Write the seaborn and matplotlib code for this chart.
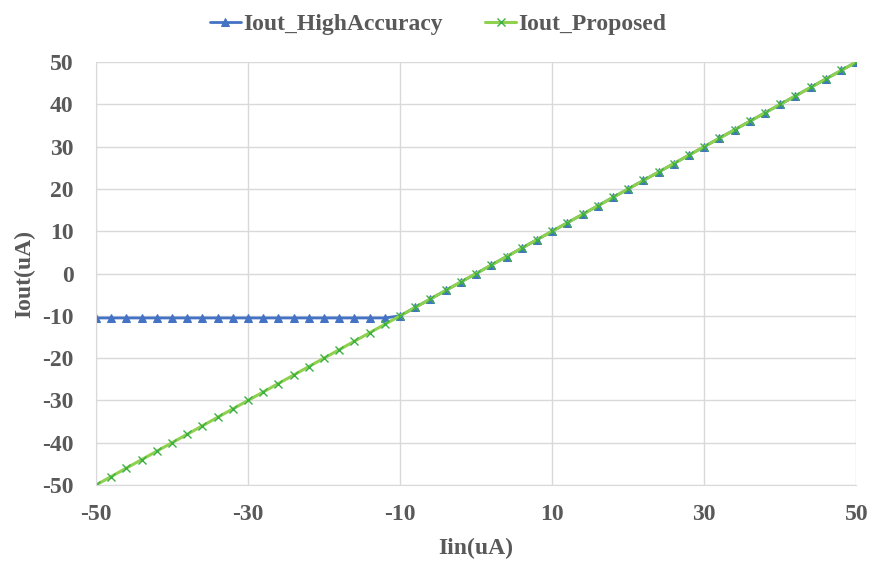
import numpy as np
import pandas as pd
import matplotlib
matplotlib.use("Agg")
import matplotlib.pyplot as plt
import seaborn as sns

sns.set_style("white")
plt.rcParams['font.family'] = ['Liberation Serif', 'DejaVu Serif']
plt.rcParams['font.weight'] = 'bold'
plt.rcParams['axes.unicode_minus'] = False

# input current sweep (uA), one point every 2 uA
iin = list(range(-50, 51, 2))
# high-accuracy circuit clamps at about -10.5 uA below -10 uA
iout_high = [-10.5 if x < -10 else float(x) for x in iin]
iout_prop = [float(x) for x in iin]

df = pd.DataFrame({
    "Iin": iin * 2,
    "Iout": iout_high + iout_prop,
    "Series": ["Iout_HighAccuracy"] * len(iin) + ["Iout_Proposed"] * len(iin),
})

text_col = "#595959"
blue = "#4472C4"
green = "#8FD14F"

fig = plt.figure(figsize=(8.72, 5.64), dpi=100)
ax = fig.add_axes([0.110, 0.140, 0.872, 0.750])

sns.lineplot(data=df[df.Series == "Iout_HighAccuracy"], x="Iin", y="Iout", ax=ax,
             color=blue, linewidth=2.0, marker="^", markersize=6,
             markeredgecolor=blue, label="Iout_HighAccuracy")
sns.lineplot(data=df[df.Series == "Iout_Proposed"], x="Iin", y="Iout", ax=ax,
             color=green, linewidth=2.2, marker="x", markersize=6,
             markeredgecolor="#3CB043", markeredgewidth=1.0, label="Iout_Proposed")

ax.set_xlim(-50, 50)
ax.set_ylim(-50, 50)
ax.set_xticks(range(-50, 51, 20))
ax.set_yticks(range(-50, 51, 10))
ax.grid(True, color="#D9D9D9", linewidth=1.0)
for s in ["top", "right"]:
    ax.spines[s].set_visible(False)
for s in ["left", "bottom"]:
    ax.spines[s].set_color("#D9D9D9")
ax.tick_params(axis="x", length=0, labelsize=17, colors=text_col, pad=14)
ax.tick_params(axis="y", length=0, labelsize=17, colors=text_col, pad=16)
for lab in ax.get_xticklabels() + ax.get_yticklabels():
    lab.set_fontweight("bold")

ax.set_xlabel("Iin(uA)", fontsize=17, fontweight="bold", color=text_col, labelpad=9)
ax.set_ylabel("Iout(uA)", fontsize=17, fontweight="bold", color=text_col, labelpad=5)

ax.legend(loc="upper center", bbox_to_anchor=(0.45, 1.165), ncol=2, frameon=False,
          prop={"weight": "bold", "size": 17}, handlelength=1.3,
          handletextpad=0.1, columnspacing=1.8, labelcolor=text_col)

fig.savefig("out.png", dpi=100)
